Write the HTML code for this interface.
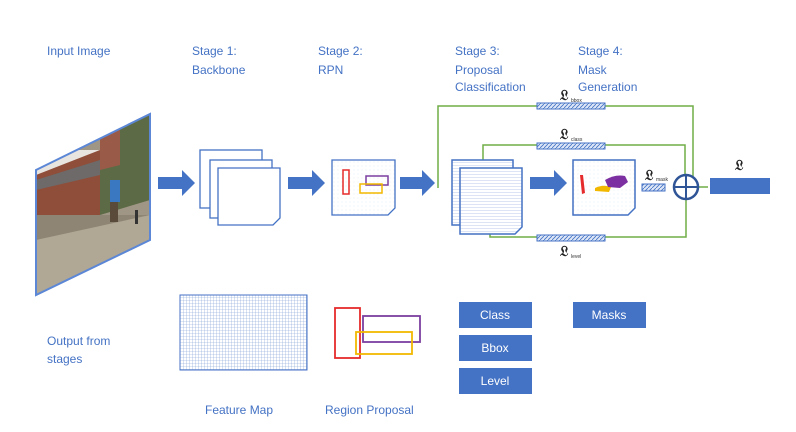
<!DOCTYPE html>
<html><head><style>
body{margin:0;background:#fff;}
svg text{font-family:"Liberation Sans",sans-serif;}
</style></head><body>
<svg width="796" height="427" viewBox="0 0 796 427" xmlns="http://www.w3.org/2000/svg">
<defs>
<pattern id="grid" width="3" height="3" patternUnits="userSpaceOnUse"><rect width="3" height="3" fill="#fff"/><path d="M0 0H3M0 0V3" stroke="#7f9fd6" stroke-width="0.6"/></pattern>
<pattern id="hl" width="4" height="3" patternUnits="userSpaceOnUse"><rect width="4" height="3" fill="#fff"/><path d="M0 0H4" stroke="#a9bde6" stroke-width="0.8"/></pattern>
<pattern id="dots" width="4" height="4" patternUnits="userSpaceOnUse"><rect width="4" height="4" fill="#fff"/><circle cx="2" cy="2" r="0.4" fill="#c7d2ea"/></pattern>
<pattern id="hatch" width="4" height="4" patternUnits="userSpaceOnUse"><rect width="4" height="4" fill="#dde6f6"/><path d="M0 4L4 0" stroke="#4472c4" stroke-width="0.8"/></pattern>
<clipPath id="ic"><polygon points="36,170 150,114 150,240 36,295"/></clipPath>
</defs>
<g fill="#4472c4" font-size="12">
<text x="47" y="55">Input Image</text>
<text x="192" y="55">Stage 1:</text><text x="192" y="74">Backbone</text>
<text x="318" y="55">Stage 2:</text><text x="318" y="74">RPN</text>
<text x="455" y="55">Stage 3:</text><text x="455" y="74">Proposal</text><text x="455" y="91">Classification</text>
<text x="578" y="55">Stage 4:</text><text x="578" y="74">Mask</text><text x="578" y="91">Generation</text>
<text x="47" y="345">Output from</text><text x="47" y="363">stages</text>
<text x="205" y="414">Feature Map</text>
<text x="325" y="414">Region Proposal</text>
</g>
<!-- input image -->
<g clip-path="url(#ic)">
<rect x="36" y="110" width="115" height="190" fill="#a09686"/>
<rect x="36" y="150" width="115" height="30" fill="#e8e4e0"/>
<polygon points="36,175 100,150 100,215 36,225" fill="#8e4e3a"/>
<polygon points="36,180 100,160 100,175 36,190" fill="#6e6a6a"/>
<polygon points="100,140 150,114 150,200 100,215" fill="#5c6b45"/>
<polygon points="100,125 120,118 120,165 100,170" fill="#9a5a48"/>
<rect x="36" y="215" width="115" height="90" fill="#8f8574"/>
<polygon points="36,240 150,215 150,240 36,295" fill="#b0a795"/>
<rect x="110" y="180" width="10" height="22" fill="#3a78c2"/>
<rect x="110" y="202" width="8" height="20" fill="#5a4a3a"/>
<rect x="135" y="210" width="3" height="14" fill="#333"/>
</g>
<polygon points="36,170 150,114 150,240 36,295" fill="none" stroke="#5b87d6" stroke-width="2"/>
<!-- arrows -->
<g fill="#4472c4">
<polygon points="158,177 182,177 182,170 195,183 182,196 182,189 158,189"/>
<polygon points="288,177 312,177 312,170 325,183 312,196 312,189 288,189"/>
<polygon points="400,177 422,177 422,170 435,183 422,196 422,189 400,189"/>
<polygon points="530,177 554,177 554,170 567,183 554,196 554,189 530,189"/>
</g>
<!-- backbone pages -->
<g fill="#fff" stroke="#4472c4" stroke-width="1.3">
<rect x="200" y="150" width="62" height="58"/>
<rect x="210" y="160" width="62" height="58"/>
<path d="M218 168H280V218L273 225H218Z"/>
<path d="M332 160H395V208L388 215H332Z" fill="url(#dots)"/>
</g>
<g fill="none" stroke-width="1.5">
<rect x="343" y="170" width="6" height="24" stroke="#e52b2b"/>
<rect x="366" y="176" width="22" height="9" stroke="#7b3fa0"/>
<rect x="360" y="184" width="22" height="9" stroke="#f2b800"/>
</g>
<!-- green lines -->
<g fill="none" stroke="#70ad47" stroke-width="1.5">
<path d="M438 188V106H693V176"/>
<path d="M483 160V145H685V175"/>
<path d="M490 234V237H686V199"/>
<path d="M698 187H708"/>
</g>
<!-- stage3 pages -->
<g stroke="#4472c4" stroke-width="1.5">
<rect x="452" y="160" width="61" height="65" fill="url(#hl)"/>
<path d="M460 168H522V227L515 234H460Z" fill="url(#hl)"/>
<path d="M573 160H635V208L628 215H573Z" fill="url(#dots)"/>
</g>
<path d="M580 175l3 0 2 18-3 1z" fill="#e52b2b"/>
<path d="M595 188q8-4 16-1l-2 5-14-1z" fill="#f2b800"/>
<path d="M605 180q10-6 20-4l3 6-8 6-12-1z" fill="#7b2fa0"/>
<!-- bars -->
<g stroke="#4472c4" stroke-width="1" fill="url(#hatch)">
<rect x="537" y="103" width="68" height="6"/>
<rect x="537" y="143" width="68" height="6"/>
<rect x="537" y="235" width="68" height="6"/>
<rect x="642" y="184" width="23" height="7"/>
</g>
<rect x="710" y="178" width="60" height="16" fill="#4472c4"/>
<circle cx="686" cy="187" r="12" fill="#fff" stroke="#2f5597" stroke-width="2.5"/>
<path d="M674 187H698M686 175V199" stroke="#2f5597" stroke-width="2"/>
<g font-family="Liberation Serif,serif" font-size="14" font-weight="bold" fill="#222">
<text x="560" y="100">𝔏</text><text x="560" y="139">𝔏</text><text x="560" y="256">𝔏</text><text x="645" y="180">𝔏</text><text x="735" y="170">𝔏</text>
</g>
<g font-size="5" fill="#333"><text x="571" y="102">bbox</text><text x="571" y="141">class</text><text x="571" y="258">level</text><text x="656" y="181">mask</text></g>
<!-- bottom -->
<rect x="180" y="295" width="127" height="75" fill="url(#grid)" stroke="#4472c4"/>
<g fill="none" stroke-width="1.8">
<rect x="335" y="308" width="25" height="50" stroke="#e52b2b"/>
<rect x="363" y="316" width="57" height="26" stroke="#7b3fa0"/>
<rect x="356" y="332" width="56" height="22" stroke="#f2b800"/>
</g>
<g fill="#4472c4"><rect x="459" y="302" width="73" height="26"/><rect x="459" y="335" width="73" height="26"/><rect x="459" y="368" width="73" height="26"/><rect x="573" y="302" width="73" height="26"/></g>
<g fill="#fff" font-size="12" text-anchor="middle"><text x="495" y="319">Class</text><text x="495" y="352">Bbox</text><text x="495" y="385">Level</text><text x="609" y="319">Masks</text></g>
</svg>
</body></html>
